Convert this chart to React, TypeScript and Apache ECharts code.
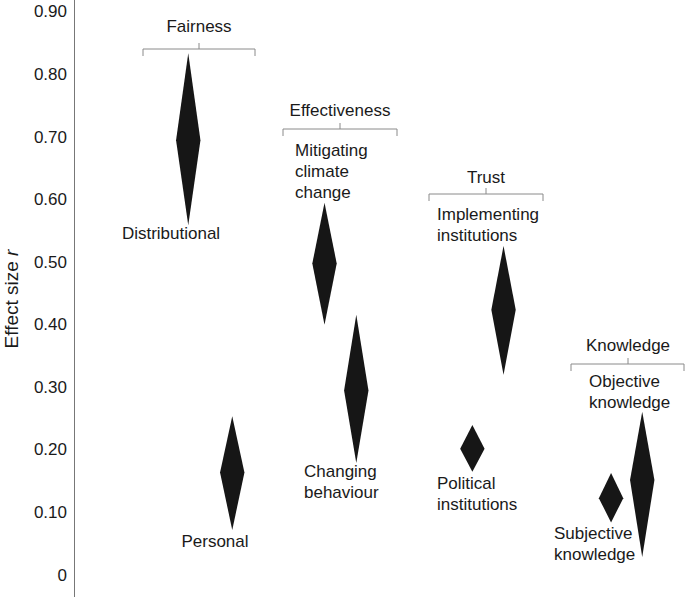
import React, { useEffect, useRef } from "react";
import * as echarts from "echarts";

// Effect estimates: [x slot, lower, point, upper]
const itemNames = [
  "Distributional",
  "Personal",
  "Mitigating climate change",
  "Changing behaviour",
  "Political institutions",
  "Implementing institutions",
  "Subjective knowledge",
  "Objective knowledge",
];
const xSlots = [1.87, 2.59, 4.1, 4.62, 6.52, 7.03, 8.79, 9.3];
const lowerValues = [0.559, 0.072, 0.4, 0.179, 0.165, 0.32, 0.084, 0.029];
const pointValues = [0.695, 0.164, 0.498, 0.295, 0.202, 0.424, 0.123, 0.152];
const upperValues = [0.834, 0.254, 0.595, 0.416, 0.24, 0.526, 0.163, 0.261];
const tickValues = [0, 0.1, 0.2, 0.3, 0.4, 0.5, 0.6, 0.7, 0.8, 0.9];
const tickLabels = ["0", "0.10", "0.20", "0.30", "0.40", "0.50", "0.60", "0.70", "0.80", "0.90"];
const groupNames = ["Fairness", "Effectiveness", "Trust", "Knowledge"];

const FONT = '"Liberation Sans", Arial, Helvetica, sans-serif';
const TEXT = "#1a1a1a";
const BRACKET = "#8a8a8a";

// layout of group brackets (pixels): left, right, centre, lineY, labelY
const bracketLayout = [
  { l: 143, r: 255, c: 199, y: 49, ty: 26 },
  { l: 283, r: 397, c: 340, y: 129, ty: 110 },
  { l: 429, r: 543, c: 486, y: 194, ty: 177 },
  { l: 571, r: 684, c: 628, y: 364, ty: 345 },
];

// layout of item labels (pixels)
const labelLayout = [
  { x: 171, y: 233, align: "center", text: "Distributional" },
  { x: 215, y: 541, align: "center", text: "Personal" },
  { x: 295, y: 171, align: "left", text: "Mitigating\nclimate\nchange" },
  { x: 304, y: 482, align: "left", text: "Changing\nbehaviour" },
  { x: 437, y: 494, align: "left", text: "Political\ninstitutions" },
  { x: 437, y: 225, align: "left", text: "Implementing\ninstitutions" },
  { x: 554, y: 544, align: "left", text: "Subjective\nknowledge" },
  { x: 589, y: 392, align: "left", text: "Objective\nknowledge" },
];

export default function App() {
  const ref = useRef<HTMLDivElement>(null);

  useEffect(() => {
    document.body.style.margin = "0";
    if (!ref.current) return;
    const chart = echarts.init(ref.current, null, { renderer: "svg" });

    const data = itemNames.map((n, i) => ({
      name: n,
      value: [xSlots[i], lowerValues[i], pointValues[i], upperValues[i]],
    }));

    const graphics: any[] = [];
    bracketLayout.forEach((b, i) => {
      const ls = { stroke: BRACKET, lineWidth: 1 };
      graphics.push({ type: "line", shape: { x1: b.l, y1: b.y, x2: b.r, y2: b.y }, style: ls });
      graphics.push({ type: "line", shape: { x1: b.l, y1: b.y, x2: b.l, y2: b.y + 7 }, style: ls });
      graphics.push({ type: "line", shape: { x1: b.r, y1: b.y, x2: b.r, y2: b.y + 7 }, style: ls });
      graphics.push({ type: "line", shape: { x1: b.c, y1: b.y - 6, x2: b.c, y2: b.y }, style: ls });
      graphics.push({
        type: "text",
        x: b.c,
        y: b.ty,
        style: {
          text: groupNames[i],
          fill: TEXT,
          font: `17px ${FONT}`,
          align: "center",
          verticalAlign: "middle",
        },
      });
    });
    labelLayout.forEach((l) => {
      graphics.push({
        type: "text",
        x: l.x,
        y: l.y,
        style: {
          text: l.text,
          fill: TEXT,
          font: `17px ${FONT}`,
          lineHeight: 21,
          align: l.align,
          verticalAlign: "middle",
        },
      });
    });
    graphics.push({
      type: "text",
      x: 11,
      y: 299,
      rotation: Math.PI / 2,
      style: {
        text: "{n|Effect size }{i|r}",
        align: "center",
        verticalAlign: "middle",
        fill: TEXT,
        rich: {
          n: { fontSize: 19, fontFamily: FONT, fill: TEXT },
          i: { fontSize: 19, fontFamily: FONT, fontStyle: "italic", fill: TEXT },
        },
      },
    });

    chart.setOption({
      animation: false,
      backgroundColor: "#ffffff",
      grid: { left: 74, right: 0, top: 0, bottom: 0 },
      xAxis: { type: "value", min: 0, max: 10, show: false },
      yAxis: {
        type: "value",
        min: -0.035,
        max: 0.919,
        axisLine: { show: true, lineStyle: { color: "#777777", width: 1 } },
        axisTick: { show: false },
        splitLine: { show: false },
        axisLabel: {
          customValues: tickValues,
          formatter: (v: number) => {
            const idx = tickValues.findIndex((t) => Math.abs(t - v) < 1e-6);
            return idx >= 0 ? tickLabels[idx] : "";
          },
          color: TEXT,
          fontSize: 17,
          fontFamily: FONT,
          margin: 7,
        },
      },
      graphic: graphics,
      series: [
        {
          type: "custom",
          data,
          renderItem: (params: any, api: any) => {
            const x = api.value(0);
            const lo = api.coord([x, api.value(1)]);
            const mid = api.coord([x, api.value(2)]);
            const hi = api.coord([x, api.value(3)]);
            const hw = 12.2;
            return {
              type: "polygon",
              shape: {
                points: [
                  [mid[0], hi[1]],
                  [mid[0] + hw, mid[1]],
                  [mid[0], lo[1]],
                  [mid[0] - hw, mid[1]],
                ],
              },
              style: { fill: "#161616" },
            };
          },
        },
      ],
    });

    return () => chart.dispose();
  }, []);

  return <div ref={ref} style={{ width: 685, height: 597 }} />;
}
